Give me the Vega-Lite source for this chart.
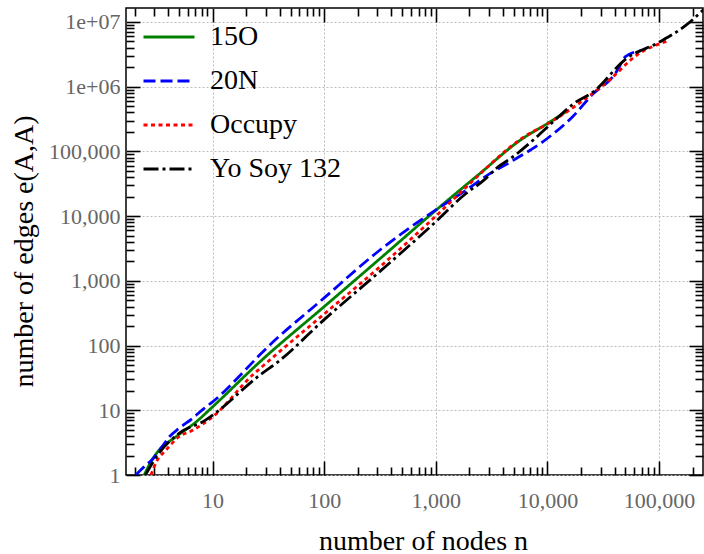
{
  "$schema": "https://vega.github.io/schema/vega-lite/v6.json",
  "width": 577,
  "height": 467,
  "autosize": {"type": "none"},
  "padding": {"left": 126, "top": 8, "right": 1, "bottom": 79},
  "background": "white",
  "config": {
    "font": "Liberation Serif",
    "view": {"stroke": "black", "strokeWidth": 1.5},
    "axis": {"labelFont": "Liberation Serif", "titleFont": "Liberation Serif"}
  },
  "datasets": {
    "curves": [
      {"series": "15O", "n": 2.44, "e": 1}, {"series": "15O", "n": 2.8, "e": 1.6}, {"series": "15O", "n": 3.3, "e": 2.4}, {"series": "15O", "n": 4.7, "e": 3.9}, {"series": "15O", "n": 7.1, "e": 6.6}, {"series": "15O", "n": 10, "e": 11.3}, {"series": "15O", "n": 26.5, "e": 56}, {"series": "15O", "n": 100, "e": 400}, {"series": "15O", "n": 316, "e": 2200}, {"series": "15O", "n": 1000, "e": 12300}, {"series": "15O", "n": 2500, "e": 46000}, {"series": "15O", "n": 5680, "e": 148000}, {"series": "15O", "n": 10000, "e": 270000}, {"series": "15O", "n": 15000, "e": 420000},
      {"series": "20N", "n": 2.05, "e": 1}, {"series": "20N", "n": 2.5, "e": 1.4}, {"series": "20N", "n": 2.9, "e": 1.75}, {"series": "20N", "n": 3.5, "e": 2.7}, {"series": "20N", "n": 4.1, "e": 3.9}, {"series": "20N", "n": 5, "e": 5.25}, {"series": "20N", "n": 6.6, "e": 7.5}, {"series": "20N", "n": 8.4, "e": 10.7}, {"series": "20N", "n": 10, "e": 13.5}, {"series": "20N", "n": 22.8, "e": 55}, {"series": "20N", "n": 26.5, "e": 72}, {"series": "20N", "n": 100, "e": 545}, {"series": "20N", "n": 316, "e": 3000}, {"series": "20N", "n": 1000, "e": 12500}, {"series": "20N", "n": 1760, "e": 23500}, {"series": "20N", "n": 3050, "e": 45300}, {"series": "20N", "n": 4940, "e": 72800}, {"series": "20N", "n": 9900, "e": 157000}, {"series": "20N", "n": 17000, "e": 350000}, {"series": "20N", "n": 25700, "e": 780000}, {"series": "20N", "n": 38900, "e": 1450000}, {"series": "20N", "n": 44000, "e": 2000000}, {"series": "20N", "n": 48000, "e": 2700000}, {"series": "20N", "n": 55000, "e": 3200000}, {"series": "20N", "n": 69000, "e": 3600000},
      {"series": "Occupy", "n": 2.8, "e": 1}, {"series": "Occupy", "n": 3.2, "e": 1.7}, {"series": "Occupy", "n": 3.8, "e": 2.4}, {"series": "Occupy", "n": 5, "e": 3.9}, {"series": "Occupy", "n": 6.6, "e": 4.9}, {"series": "Occupy", "n": 10, "e": 7.9}, {"series": "Occupy", "n": 22.8, "e": 35}, {"series": "Occupy", "n": 26.5, "e": 44}, {"series": "Occupy", "n": 100, "e": 308}, {"series": "Occupy", "n": 316, "e": 1650}, {"series": "Occupy", "n": 1000, "e": 10000}, {"series": "Occupy", "n": 2500, "e": 45000}, {"series": "Occupy", "n": 4500, "e": 112000}, {"series": "Occupy", "n": 6080, "e": 165000}, {"series": "Occupy", "n": 10000, "e": 265000}, {"series": "Occupy", "n": 18200, "e": 517000}, {"series": "Occupy", "n": 36000, "e": 1270000}, {"series": "Occupy", "n": 63000, "e": 3060000}, {"series": "Occupy", "n": 120000, "e": 5100000},
      {"series": "Yo Soy 132", "n": 2.5, "e": 1}, {"series": "Yo Soy 132", "n": 3.3, "e": 2.16}, {"series": "Yo Soy 132", "n": 5, "e": 4.4}, {"series": "Yo Soy 132", "n": 8.7, "e": 7.1}, {"series": "Yo Soy 132", "n": 10, "e": 8.4}, {"series": "Yo Soy 132", "n": 26.5, "e": 35}, {"series": "Yo Soy 132", "n": 39.5, "e": 58}, {"series": "Yo Soy 132", "n": 100, "e": 252}, {"series": "Yo Soy 132", "n": 316, "e": 1400}, {"series": "Yo Soy 132", "n": 1000, "e": 8200}, {"series": "Yo Soy 132", "n": 1840, "e": 22000}, {"series": "Yo Soy 132", "n": 2700, "e": 36000}, {"series": "Yo Soy 132", "n": 3500, "e": 55000}, {"series": "Yo Soy 132", "n": 5120, "e": 87000}, {"series": "Yo Soy 132", "n": 7470, "e": 150000}, {"series": "Yo Soy 132", "n": 11200, "e": 284000}, {"series": "Yo Soy 132", "n": 17000, "e": 540000}, {"series": "Yo Soy 132", "n": 25700, "e": 830000}, {"series": "Yo Soy 132", "n": 51000, "e": 2720000}, {"series": "Yo Soy 132", "n": 101000, "e": 4900000}, {"series": "Yo Soy 132", "n": 176000, "e": 9000000}, {"series": "Yo Soy 132", "n": 250000, "e": 15500000}
    ]
  },
  "data": {"name": "curves"},
  "resolve": {"axis": {"x": "independent", "y": "independent"}},
  "layer": [
    {
      "mark": {"type": "line", "clip": true, "strokeWidth": 2.8, "interpolate": "monotone", "strokeCap": "butt"},
      "encoding": {
        "x": {"field": "n", "type": "quantitative",
          "scale": {"type": "log", "domain": [1.675, 248000], "nice": false},
          "axis": {"orient": "bottom", "values": [10, 100, 1000, 10000, 100000], "labelExpr": "format(datum.value, ',')",
            "ticks": false, "domain": false, "grid": true, "gridColor": "#bdbdbd", "gridDash": [2, 2], "gridWidth": 1,
            "labelFontSize": 22, "labelColor": "#666666", "labelPadding": 15, "labelFlush": false,
            "title": "number of nodes n", "titleFontSize": 28, "titleFontWeight": "normal", "titleColor": "black",
            "titleX": 297, "titleY": 74, "titleBaseline": "alphabetic", "titleAnchor": null}},
        "y": {"field": "e", "type": "quantitative",
          "scale": {"type": "log", "domain": [1, 16450000], "nice": false},
          "axis": {"orient": "left", "values": [1, 10, 100, 1000, 10000, 100000, 1000000, 10000000],
            "labelExpr": "datum.value >= 1000000 ? '1e+0' + round(log(datum.value) / LN10) : format(datum.value, ',')",
            "ticks": false, "domain": false, "grid": true, "gridColor": "#bdbdbd", "gridDash": [2, 2], "gridWidth": 1,
            "labelFontSize": 22, "labelColor": "#666666", "labelPadding": 6, "labelFlush": false,
            "title": "number of edges e(A,A)", "titleFontSize": 28, "titleFontWeight": "normal", "titleColor": "black",
            "titleX": -94, "titleY": 243, "titleAngle": -90, "titleBaseline": "alphabetic", "titleAnchor": null}},
        "color": {"field": "series", "type": "nominal",
          "scale": {"domain": ["15O", "20N", "Occupy", "Yo Soy 132"], "range": ["#008000", "#0000ff", "#ff0000", "#000000"]},
          "legend": {"orient": "none", "legendX": 16, "legendY": 2, "title": null, "symbolType": "stroke", "symbolSize": 2601,
            "symbolStrokeWidth": 2.8, "labelFont": "Liberation Serif", "labelFontSize": 28, "labelColor": "black",
            "labelOffset": 14, "rowPadding": 3, "padding": 0}},
        "strokeDash": {"field": "series", "type": "nominal",
          "scale": {"domain": ["15O", "20N", "Occupy", "Yo Soy 132"], "range": [[1, 0], [12, 5], [4, 3.5], [15, 4, 3, 4]]},
          "legend": {"orient": "none", "legendX": 16, "legendY": 2, "title": null, "symbolType": "stroke", "symbolSize": 2601,
            "symbolStrokeWidth": 2.8, "labelFont": "Liberation Serif", "labelFontSize": 28, "labelColor": "black",
            "labelOffset": 14, "rowPadding": 3, "padding": 0}}
      }
    },
    {
      "mark": {"type": "point", "opacity": 0},
      "encoding": {
        "x": {"field": "n", "type": "quantitative", "scale": {"type": "log", "domain": [1.675, 248000], "nice": false},
          "axis": {"orient": "bottom", "values": [10, 100, 1000, 10000, 100000], "labels": false, "domain": false, "grid": false,
            "ticks": true, "tickSize": -14, "tickColor": "black", "tickWidth": 1.6, "title": null}},
        "y": {"field": "e", "type": "quantitative", "scale": {"type": "log", "domain": [1, 16450000], "nice": false},
          "axis": {"orient": "left", "values": [1, 10, 100, 1000, 10000, 100000, 1000000, 10000000], "labels": false, "domain": false, "grid": false,
            "ticks": true, "tickSize": -14, "tickColor": "black", "tickWidth": 1.6, "title": null}}
      }
    },
    {
      "mark": {"type": "point", "opacity": 0},
      "encoding": {
        "x": {"field": "n", "type": "quantitative", "scale": {"type": "log", "domain": [1.675, 248000], "nice": false},
          "axis": {"orient": "bottom", "values": [2, 3, 4, 5, 6, 7, 8, 9, 20, 30, 40, 50, 60, 70, 80, 90, 200, 300, 400, 500, 600, 700, 800, 900, 2000, 3000, 4000, 5000, 6000, 7000, 8000, 9000, 20000, 30000, 40000, 50000, 60000, 70000, 80000, 90000, 200000],
            "labels": false, "domain": false, "grid": false, "ticks": true, "tickSize": -8, "tickColor": "black", "tickWidth": 1.6, "title": null}},
        "y": {"field": "e", "type": "quantitative", "scale": {"type": "log", "domain": [1, 16450000], "nice": false},
          "axis": {"orient": "left", "values": [2, 3, 4, 5, 6, 7, 8, 9, 20, 30, 40, 50, 60, 70, 80, 90, 200, 300, 400, 500, 600, 700, 800, 900, 2000, 3000, 4000, 5000, 6000, 7000, 8000, 9000, 20000, 30000, 40000, 50000, 60000, 70000, 80000, 90000, 200000, 300000, 400000, 500000, 600000, 700000, 800000, 900000, 2000000, 3000000, 4000000, 5000000, 6000000, 7000000, 8000000, 9000000],
            "labels": false, "domain": false, "grid": false, "ticks": true, "tickSize": -8, "tickColor": "black", "tickWidth": 1.6, "title": null}}
      }
    },
    {
      "mark": {"type": "point", "opacity": 0},
      "encoding": {
        "x": {"field": "n", "type": "quantitative", "scale": {"type": "log", "domain": [1.675, 248000], "nice": false},
          "axis": {"orient": "top", "values": [10, 100, 1000, 10000, 100000], "labels": false, "domain": false, "grid": false,
            "ticks": true, "tickSize": -14, "tickColor": "black", "tickWidth": 1.6, "title": null}},
        "y": {"field": "e", "type": "quantitative", "scale": {"type": "log", "domain": [1, 16450000], "nice": false},
          "axis": {"orient": "right", "values": [1, 10, 100, 1000, 10000, 100000, 1000000, 10000000], "labels": false, "domain": false, "grid": false,
            "ticks": true, "tickSize": -14, "tickColor": "black", "tickWidth": 1.6, "title": null}}
      }
    },
    {
      "mark": {"type": "point", "opacity": 0},
      "encoding": {
        "x": {"field": "n", "type": "quantitative", "scale": {"type": "log", "domain": [1.675, 248000], "nice": false},
          "axis": {"orient": "top", "values": [2, 3, 4, 5, 6, 7, 8, 9, 20, 30, 40, 50, 60, 70, 80, 90, 200, 300, 400, 500, 600, 700, 800, 900, 2000, 3000, 4000, 5000, 6000, 7000, 8000, 9000, 20000, 30000, 40000, 50000, 60000, 70000, 80000, 90000, 200000],
            "labels": false, "domain": false, "grid": false, "ticks": true, "tickSize": -8, "tickColor": "black", "tickWidth": 1.6, "title": null}},
        "y": {"field": "e", "type": "quantitative", "scale": {"type": "log", "domain": [1, 16450000], "nice": false},
          "axis": {"orient": "right", "values": [2, 3, 4, 5, 6, 7, 8, 9, 20, 30, 40, 50, 60, 70, 80, 90, 200, 300, 400, 500, 600, 700, 800, 900, 2000, 3000, 4000, 5000, 6000, 7000, 8000, 9000, 20000, 30000, 40000, 50000, 60000, 70000, 80000, 90000, 200000, 300000, 400000, 500000, 600000, 700000, 800000, 900000, 2000000, 3000000, 4000000, 5000000, 6000000, 7000000, 8000000, 9000000],
            "labels": false, "domain": false, "grid": false, "ticks": true, "tickSize": -8, "tickColor": "black", "tickWidth": 1.6, "title": null}}
      }
    }
  ]
}
